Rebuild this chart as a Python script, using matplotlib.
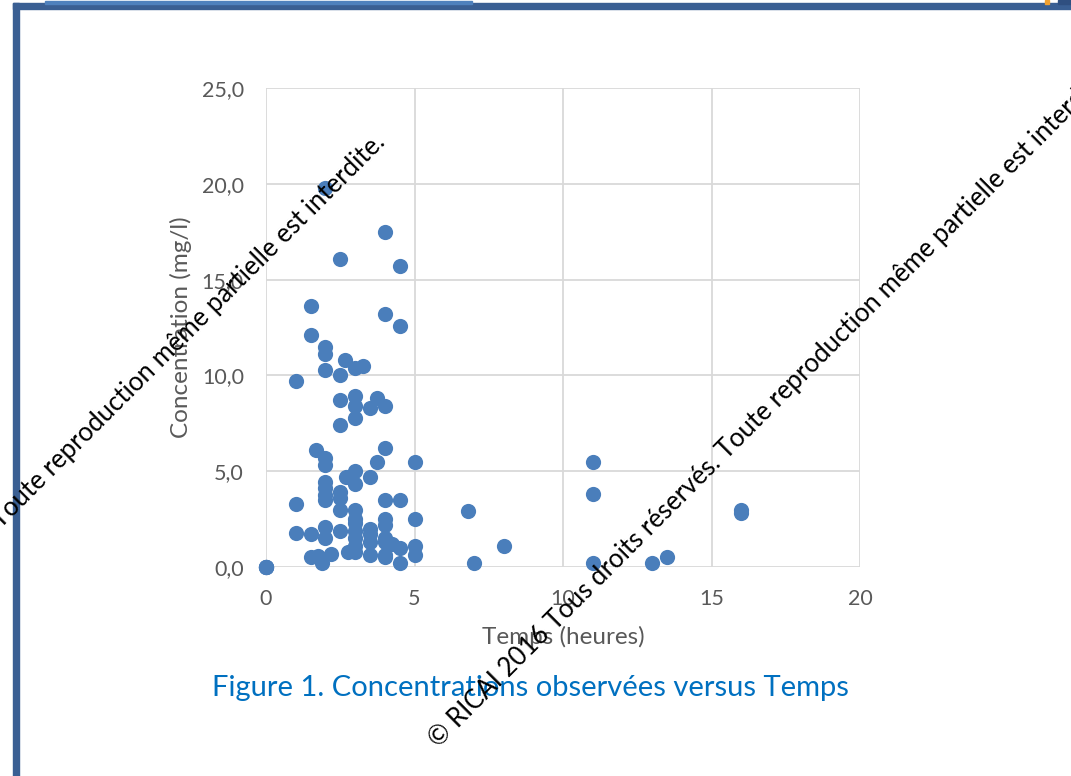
import matplotlib
matplotlib.use("Agg")
import matplotlib.pyplot as plt
from matplotlib.patches import Rectangle

# observed concentrations (mg/l) vs time (hours)
temps = [0, 0, 0, 0,
         2, 4, 2.5, 4.5, 1.5, 4, 4.5, 1.5, 2, 2, 2.67, 3.25, 3, 2, 2.5, 1,
         3, 3.73, 2.5, 3, 3.5, 4, 3, 2.5,
         4, 1.67, 2, 2, 3.73, 5, 3, 2.7, 3.5, 2, 3, 2, 2.5, 2, 2, 2.5, 1, 4, 4.5,
         2.5, 3, 5, 4, 4, 3, 3, 3.5, 1, 1.5, 2, 2, 2.5, 3, 3, 3.5, 4, 3.5, 4, 4.25,
         4.5, 5, 3, 2.75, 3, 3.5, 4, 4, 5, 1.5, 1.75, 2.2, 1.9, 4.5,
         11, 11, 6.8, 16, 16, 8, 7, 11, 13, 13.5]
conc = [0, 0, 0, 0,
        19.8, 17.5, 16.1, 15.7, 13.6, 13.2, 12.6, 12.1, 11.5, 11.1, 10.8, 10.5, 10.4, 10.3, 10.0, 9.7,
        8.9, 8.8, 8.7, 8.4, 8.3, 8.4, 7.8, 7.4,
        6.2, 6.1, 5.7, 5.3, 5.5, 5.5, 5.0, 4.7, 4.7, 4.45, 4.35, 4.1, 3.9, 3.75, 3.5, 3.6, 3.3, 3.5, 3.5,
        3.0, 3.0, 2.5, 2.5, 2.2, 2.5, 2.3, 2.0, 1.8, 1.7, 2.1, 1.5, 1.9, 1.9, 1.5, 1.7, 1.5, 1.3, 1.3, 1.2,
        1.0, 1.1, 1.1, 0.8, 0.8, 0.63, 0.63, 0.5, 0.63, 0.5, 0.6, 0.7, 0.2, 0.2,
        5.5, 3.8, 2.9, 3.0, 2.8, 1.1, 0.2, 0.2, 0.2, 0.5]

x_ticks = [0, 5, 10, 15, 20]
y_ticks = [0, 5, 10, 15, 20, 25]

watermark = "© RICAI 2016 Tous droits réservés. Toute reproduction même partielle est interdite."

plt.rcParams['font.family'] = ['Lato', 'DejaVu Sans']

fig = plt.figure(figsize=(10.71, 7.76), dpi=100)
ax = fig.add_axes([0.2484, 0.2693, 0.5546, 0.6173])

ax.scatter(temps, conc, s=120, color="#4A7EBB", zorder=3, clip_on=False, linewidths=0)

ax.set_xlim(0, 20)
ax.set_ylim(0, 25)
ax.set_xticks(x_ticks)
ax.set_yticks(y_ticks)
ax.set_yticklabels([f"{v:.1f}".replace(".", ",") for v in y_ticks])
ax.grid(True, color="#D9D9D9", linewidth=1.3, zorder=0)
for s in ax.spines.values():
    s.set_visible(False)
ax.tick_params(length=0, labelsize=15.5, colors="#595959", pad=16)
ax.set_xlabel("Temps (heures)", fontsize=17.5, color="#595959", labelpad=12)
ax.set_ylabel("Concentration (mg/l)", fontsize=17.5, color="#595959", labelpad=7)

fig.text(0.495, 0.114, "Figure 1. Concentrations observées versus Temps",
         fontsize=21, color="#0070C0", ha="center", va="center")

# frame of the page
fig.patches.append(Rectangle((13 / 1071, 0), 6 / 1071, 1 - 3 / 776, transform=fig.transFigure,
                             color="#3A5F93", zorder=5))
fig.patches.append(Rectangle((13 / 1071, 1 - 9 / 776), 1 - 13 / 1071, 6 / 776, transform=fig.transFigure,
                             color="#3A5F93", zorder=5))
fig.patches.append(Rectangle((45 / 1071, 1 - 4 / 776), 427 / 1071, 3 / 776, transform=fig.transFigure,
                             color="#4F81BD", zorder=5))
fig.patches.append(Rectangle((1045 / 1071, 1 - 4 / 776), 4 / 1071, 4 / 776, transform=fig.transFigure,
                             color="#F0A030", zorder=5))
fig.patches.append(Rectangle((1058 / 1071, 1 - 4 / 776), 13 / 1071, 4 / 776, transform=fig.transFigure,
                             color="#2F4F80", zorder=5))

# watermark lines
fig.text(386 / 1071, 1 - 144 / 776, watermark, fontsize=18.5, color="black", rotation=45,
         rotation_mode="anchor", ha="right", va="baseline", zorder=10)
fig.text(438 / 1071, 1 - 748 / 776, watermark, fontsize=18.5, color="black", rotation=45,
         rotation_mode="anchor", ha="left", va="baseline", zorder=10)

fig.savefig("out.png", dpi=100)
